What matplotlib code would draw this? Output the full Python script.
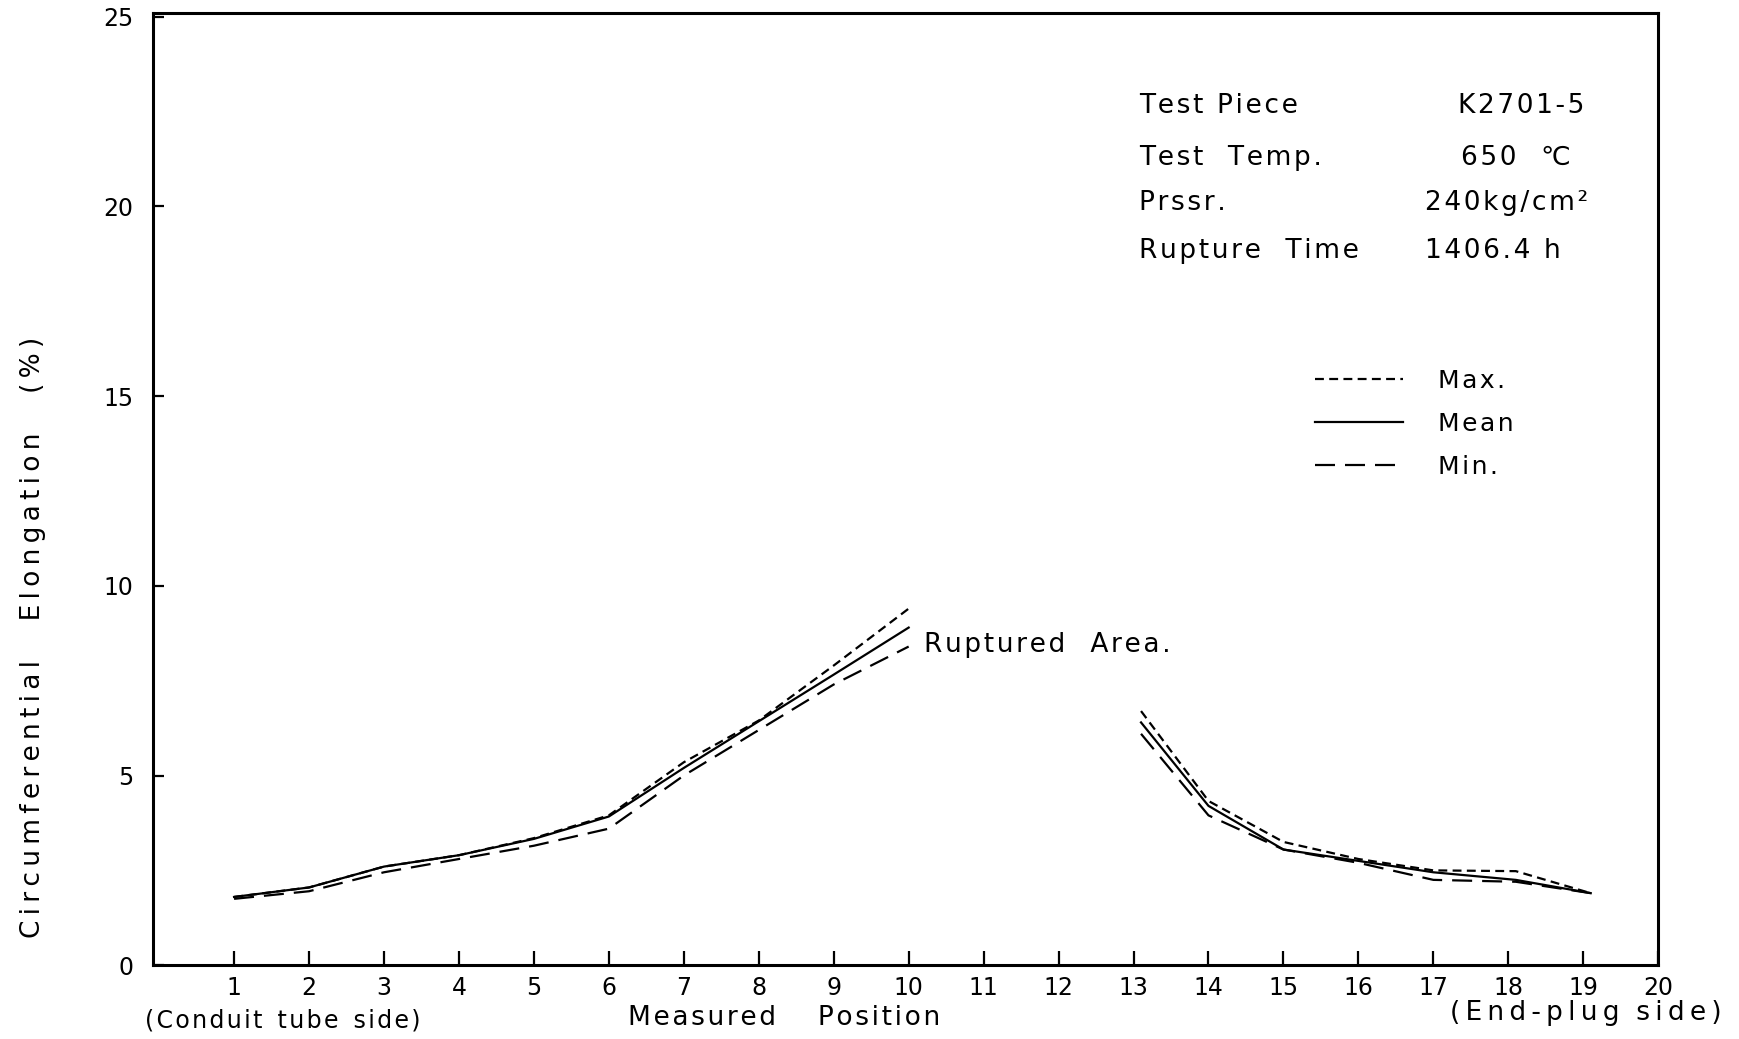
import matplotlib
matplotlib.use("Agg")
import matplotlib.pyplot as plt

# ---- data ----
x_left = [1, 2, 3, 4, 5, 6, 7, 8, 9, 10]
max_left = [1.80, 2.05, 2.60, 2.90, 3.35, 3.95, 5.35, 6.45, 7.90, 9.40]
mean_left = [1.80, 2.05, 2.60, 2.90, 3.33, 3.92, 5.20, 6.43, 7.66, 8.90]
min_left = [1.75, 1.95, 2.45, 2.80, 3.15, 3.60, 5.00, 6.20, 7.40, 8.40]

x_right = [13.1, 14, 15, 16, 17, 18.1, 19.1]
max_right = [6.70, 4.33, 3.25, 2.80, 2.50, 2.48, 1.90]
mean_right = [6.40, 4.20, 3.05, 2.75, 2.45, 2.25, 1.90]
min_right = [6.10, 3.95, 3.05, 2.70, 2.25, 2.20, 1.90]

x_ticks = list(range(1, 21))
y_ticks = [0, 5, 10, 15, 20, 25]

info_labels = ["Test Piece", "Test  Temp.", "Prssr.", "Rupture  Time"]
info_values = ["K2701-5", "650  \u2103", "240kg/cm\u00b2", "1406.4 h"]

FS = 19
plt.rcParams['font.family'] = ['DejaVu Sans']


def sp(s, sep="\u200a"):
    return sep.join(s)


fig = plt.figure(figsize=(17.4, 10.39), dpi=100)
ax = fig.add_axes([0.088, 0.071, 0.865, 0.9165])

lw = 1.6
short_dash = (4, 2.4)
long_dash = (9, 4.5)

ax.plot(x_left, max_left, color='black', lw=lw, dashes=short_dash, label=sp('Max.'))
ax.plot(x_left, mean_left, color='black', lw=lw, label=sp('Mean'))
ax.plot(x_left, min_left, color='black', lw=lw, dashes=long_dash, label=sp('Min.'))
ax.plot(x_right, max_right, color='black', lw=lw, dashes=short_dash)
ax.plot(x_right, mean_right, color='black', lw=lw)
ax.plot(x_right, min_right, color='black', lw=lw, dashes=long_dash)

ax.set_xlim(-0.08, 20)
ax.set_ylim(0, 25.1)

for s in ax.spines.values():
    s.set_linewidth(2.2)

ax.set_xticks(x_ticks)
ax.set_xticklabels([str(v) for v in x_ticks], fontsize=17)
ax.set_yticks(y_ticks)
ax.set_yticklabels([str(v) for v in y_ticks], fontsize=17)
ax.tick_params(axis='x', direction='in', length=10, width=1.6, pad=8)
ax.tick_params(axis='y', direction='in', length=8, width=1.6, pad=14)

ax.set_xlabel(sp("Measured") + "     " + sp("Position"), fontsize=FS)
ax.xaxis.set_label_coords(0.419, -0.055)
ax.xaxis.label.set_va('center')

ylabel = "\u2009".join("Circumferential") + "\u2003\u2002" + "\u2009".join("Elongation") + "\u2003\u2002" + "(\u2009%\u2009)"
ax.set_ylabel(ylabel, fontsize=19)
ax.yaxis.set_label_coords(-0.080, 0.344)
ax.yaxis.label.set_va('center')

ax.text(0.086, -0.058, sp("(Conduit") + "  " + sp("tube") + "  " + sp("side)"),
        transform=ax.transAxes, ha='center', va='center', fontsize=17)
ax.text(0.952, -0.050, sp("(End-plug", "\u2009") + "  " + sp("side)", "\u2009"),
        transform=ax.transAxes, ha='center', va='center', fontsize=19)

ax.text(10.2, 8.45, sp("Ruptured") + "   " + sp("Area."), fontsize=FS, ha='left', va='center')

label_y = [0.902, 0.848, 0.800, 0.750]
value_x = [0.867, 0.869, 0.845, 0.845]
for lab, val, yy, vx in zip(info_labels, info_values, label_y, value_x):
    ax.text(0.655, yy, sp(lab), transform=ax.transAxes, fontsize=FS, ha='left', va='center')
    ax.text(vx, yy, sp(val), transform=ax.transAxes, fontsize=FS, ha='left', va='center')

leg = ax.legend(loc='upper left', bbox_to_anchor=(0.772, 0.626), frameon=False,
                fontsize=18, handlelength=3.5, handletextpad=1.4, labelspacing=0.75,
                borderpad=0, borderaxespad=0)

fig.savefig("out.png", dpi=100, facecolor='white')
